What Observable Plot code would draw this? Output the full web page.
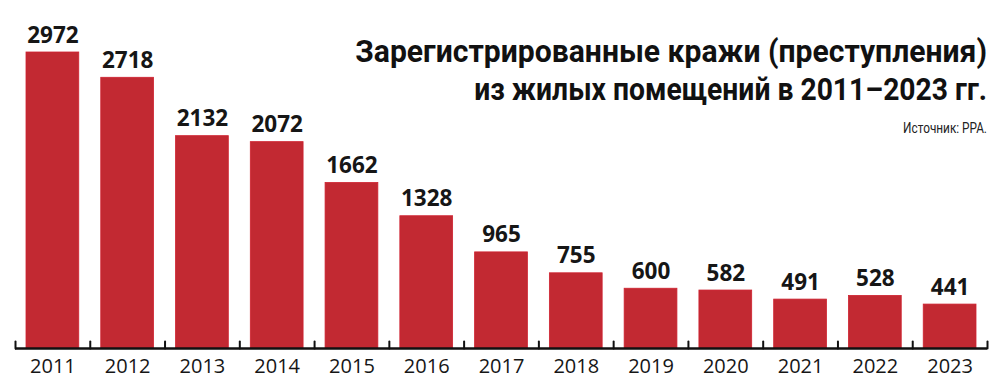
<!DOCTYPE html>
<html>
<head>
<meta charset="utf-8">
<script src="https://cdn.jsdelivr.net/npm/d3@7"></script>
<script src="https://cdn.jsdelivr.net/npm/@observablehq/plot@0.6"></script>
<style>
  html, body { margin: 0; padding: 0; background: #fff; }
  #chart { width: 1000px; height: 388px; }
</style>
</head>
<body>
<div id="chart"></div>
<script>
const years = [2011, 2012, 2013, 2014, 2015, 2016, 2017, 2018, 2019, 2020, 2021, 2022, 2023];
const values = [2972, 2718, 2132, 2072, 1662, 1328, 965, 755, 600, 582, 491, 528, 441];
const titleLines = ["Зарегистрированные кражи (преступления)", "из жилых помещений в 2011–2023 гг."];
const sourceText = "Источник: РРА.";

const data = years.map((year, i) => ({year, value: values[i]}));
const bounds = [...years.map(y => y - 0.5), years[years.length - 1] + 0.5];

const chart = Plot.plot({
  width: 1000,
  height: 388,
  marginTop: 52,
  marginBottom: 40,
  marginLeft: 15,
  marginRight: 13,
  x: {type: "linear", domain: [years[0] - 0.5, years[years.length - 1] + 0.5]},
  y: {domain: [0, d3.max(values)], axis: null},
  style: {fontFamily: "'Open Sans', sans-serif", background: "white", overflow: "visible", color: "#111"},
  marks: [
    Plot.rectY(data, {
      x1: d => d.year - 0.5, x2: d => d.year + 0.5, y: "value",
      fill: "#c22932", stroke: "#cf2230", strokeWidth: 0.8,
      insetLeft: 11, insetRight: 11
    }),
    Plot.ruleY([0], {stroke: "#111", strokeWidth: 2.5}),
    Plot.vector(bounds, {
      x: d => d, y: 0, length: 7, rotate: 0, anchor: "start",
      stroke: "#111", strokeWidth: 2,
      shape: {draw(context, l) { context.moveTo(0, 0); context.lineTo(0, -l); }}
    }),
    Plot.text(data, {
      x: "year", y: "value", text: d => String(d.value),
      dy: -10, lineAnchor: "bottom",
      fontSize: 22.5, fontWeight: 700, fill: "#161616"
    }),
    Plot.axisX({
      ticks: years, tickSize: 0, tickPadding: 10,
      tickFormat: d => String(d), fontSize: 20, fill: "#161616", label: null
    })
  ]
});

document.getElementById("chart").appendChild(chart);

const svg = d3.select(chart);
const titleFont = "Roboto, 'Noto Sans', sans-serif";
function fitted(text, y, target, size, weight, fill) {
  const t = svg.append("text")
    .attr("text-anchor", "end")
    .attr("font-family", titleFont)
    .attr("font-weight", weight)
    .attr("font-size", size)
    .attr("fill", fill)
    .text(text);
  const w = t.node().getComputedTextLength();
  const k = w > 0 ? target / w : 1;
  t.attr("transform", `translate(987,${y}) scale(${k},1)`);
}
fitted(titleLines[0], 62, 632, 32, 700, "#111");
fitted(titleLines[1], 100, 513, 32, 700, "#111");
fitted(sourceText, 133, 84, 14, 400, "#222");
</script>
</body>
</html>
